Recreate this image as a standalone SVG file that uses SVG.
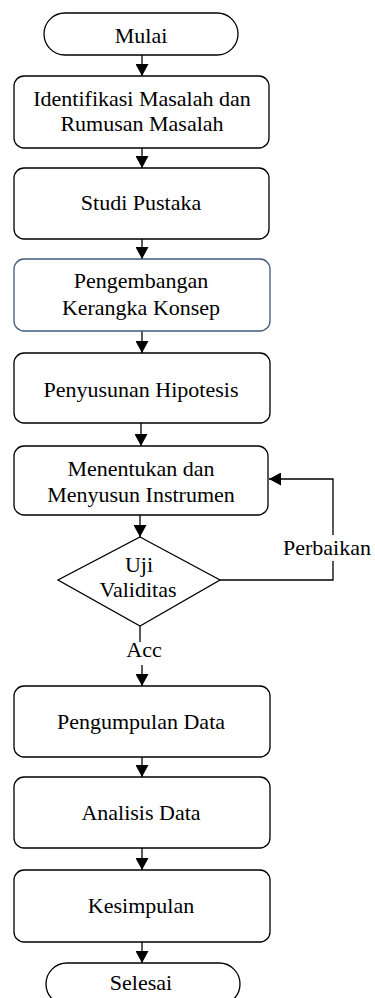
<svg xmlns="http://www.w3.org/2000/svg" width="375" height="998" viewBox="0 0 375 998">
<defs>
<marker id="ah" markerUnits="userSpaceOnUse" markerWidth="13" markerHeight="13" refX="12" refY="6.5" orient="auto">
<path d="M0,0 L12,6.5 L0,13 Z" fill="#000"/>
</marker>
<style>
.box{fill:#fff;stroke:#000;stroke-width:1.3}
.blue{fill:#fff;stroke:#42587e;stroke-width:1.3}
.c{fill:none;stroke:#000;stroke-width:1.3}
text{font-family:'Liberation Serif','Times New Roman',serif !important;font-size:22px;fill:#000;text-anchor:middle}
</style>
</defs>
<rect width="375" height="998" fill="#fff"/>
<g id="connectors">
<line class="c" x1="142" y1="55" x2="142" y2="76" marker-end="url(#ah)"/>
<line class="c" x1="142" y1="148" x2="142" y2="168" marker-end="url(#ah)"/>
<line class="c" x1="142" y1="239" x2="142" y2="259" marker-end="url(#ah)"/>
<line class="c" x1="142" y1="331" x2="142" y2="353" marker-end="url(#ah)"/>
<line class="c" x1="141" y1="423" x2="141" y2="446" marker-end="url(#ah)"/>
<line class="c" x1="140" y1="515" x2="140" y2="537" marker-end="url(#ah)"/>
<line class="c" x1="140" y1="626" x2="140" y2="642"/>
<line class="c" x1="142" y1="665" x2="142" y2="686" marker-end="url(#ah)"/>
<polyline class="c" points="220,580 333,580 333,479 269,479" marker-end="url(#ah)"/>
<line class="c" x1="142" y1="757" x2="142" y2="777" marker-end="url(#ah)"/>
<line class="c" x1="142" y1="848" x2="142" y2="870" marker-end="url(#ah)"/>
<line class="c" x1="142" y1="942" x2="142" y2="963" marker-end="url(#ah)"/>
<rect x="281" y="535" width="94" height="26" fill="#fff"/>
<text x="327" y="555" style="font-family:'Liberation Serif',serif !important">Perbaikan</text>
<text x="144" y="657" style="font-family:'Liberation Serif',serif !important">Acc</text>
</g>
<g id="mulai">
<rect class="box" x="44" y="13" width="194" height="42" rx="21"/>
<text x="141" y="43" style="font-family:'Liberation Serif',serif !important">Mulai</text>
</g>
<g id="identifikasi">
<rect class="box" x="14" y="76" width="255" height="72" rx="10"/>
<text x="142" y="106" style="font-family:'Liberation Serif',serif !important">Identifikasi Masalah dan</text>
<text x="142" y="131" style="font-family:'Liberation Serif',serif !important">Rumusan Masalah</text>
</g>
<g id="studi">
<rect class="box" x="14" y="168" width="255" height="71" rx="10"/>
<text x="141" y="210" style="font-family:'Liberation Serif',serif !important">Studi Pustaka</text>
</g>
<g id="pengembangan">
<rect class="blue" x="14" y="259" width="256" height="72" rx="10"/>
<text x="141" y="288" style="font-family:'Liberation Serif',serif !important">Pengembangan</text>
<text x="141" y="315" style="font-family:'Liberation Serif',serif !important">Kerangka Konsep</text>
</g>
<g id="hipotesis">
<rect class="box" x="14" y="353" width="256" height="70" rx="10"/>
<text x="141" y="397" style="font-family:'Liberation Serif',serif !important">Penyusunan Hipotesis</text>
</g>
<g id="instrumen">
<rect class="box" x="14" y="446" width="254" height="69" rx="10"/>
<text x="141" y="476" style="font-family:'Liberation Serif',serif !important">Menentukan dan</text>
<text x="141" y="502" style="font-family:'Liberation Serif',serif !important">Menyusun Instrumen</text>
</g>
<g id="uji">
<polygon class="box" points="140,537 220,580 140,626 58,580"/>
<text x="139" y="572" style="font-family:'Liberation Serif',serif !important">Uji</text>
<text x="138" y="597" style="font-family:'Liberation Serif',serif !important">Validitas</text>
</g>
<g id="pengumpulan">
<rect class="box" x="14" y="686" width="256" height="71" rx="10"/>
<text x="141" y="729" style="font-family:'Liberation Serif',serif !important">Pengumpulan Data</text>
</g>
<g id="analisis">
<rect class="box" x="14" y="777" width="256" height="71" rx="10"/>
<text x="141" y="820" style="font-family:'Liberation Serif',serif !important">Analisis Data</text>
</g>
<g id="kesimpulan">
<rect class="box" x="14" y="870" width="256" height="72" rx="10"/>
<text x="141" y="913" style="font-family:'Liberation Serif',serif !important">Kesimpulan</text>
</g>
<g id="selesai">
<rect class="box" x="46" y="963" width="194" height="42" rx="21"/>
<text x="141" y="990" style="font-family:'Liberation Serif',serif !important">Selesai</text>
</g>
</svg>
